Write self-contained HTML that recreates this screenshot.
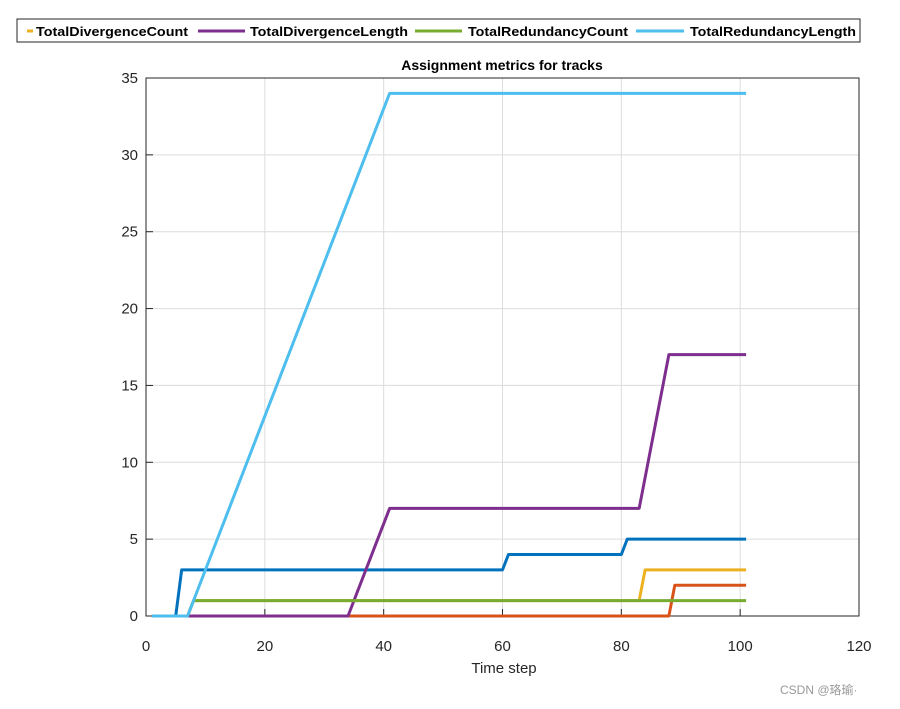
<!DOCTYPE html>
<html><head><meta charset="utf-8"><style>
body{margin:0;background:#fff;width:900px;height:704px;overflow:hidden;font-family:"Liberation Sans",Arial,sans-serif}
</style></head><body>
<svg width="900" height="704">
<g id="legend">
<rect x="17" y="19" width="843" height="23" fill="#fff" stroke="#262626" stroke-width="1"/>
</g>
<text x="502" y="70" text-anchor="middle" font-size="14" font-weight="bold" fill="#000">Assignment metrics for tracks</text>
<g id="grid"></g>
<rect x="146" y="78" width="713" height="538" fill="none" stroke="#262626" stroke-width="1"/>
<g id="axes"></g>
<g id="series"></g>
<text x="504" y="673" text-anchor="middle" font-size="15" fill="#262626">Time step</text>
<text x="780" y="694" font-size="12" fill="#999">CSDN @珞瑜·</text>
</svg>
<script>
const xTicks=[0,20,40,60,80,100,120];
const yTicks=[0,5,10,15,20,25,30,35];
const seriesNames=["TotalAssignmentCount","TotalFalseCount","TotalDivergenceCount","TotalDivergenceLength","TotalRedundancyCount","TotalRedundancyLength"];
const seriesColors=["#0072BD","#D95319","#EDB120","#7E2F8E","#77AC30","#4DBEEE"];
const xsA=[1,5,6,60,61,80,81,101], ysA=[0,0,3,3,4,4,5,5];
const xsB=[1,88,89,101], ysB=[0,0,2,2];
const xsC=[1,7,8,83,84,101], ysC=[0,0,1,1,3,3];
const xsD=[1,34,41,83,88,101], ysD=[0,0,7,7,17,17];
const xsE=[1,7,8,101], ysE=[0,0,1,1];
const xsF=[1,7,41,101], ysF=[0,0,34,34];
const seriesX=[xsA,xsB,xsC,xsD,xsE,xsF];
const seriesY=[ysA,ysB,ysC,ysD,ysE,ysF];
const NS="http://www.w3.org/2000/svg";
const L=146,R=859,T=78,B=616;
const sx=v=>L+(v-0)/(120-0)*(R-L);
const sy=v=>B-(v-0)/(35-0)*(B-T);
const grid=document.getElementById('grid'),axes=document.getElementById('axes'),ser=document.getElementById('series');
function mk(t,a,p){const e=document.createElementNS(NS,t);for(const k in a)e.setAttribute(k,a[k]);p.appendChild(e);return e;}
xTicks.forEach(v=>{
 const g=mk('line',{x1:sx(v),x2:sx(v),y1:T,y2:B,stroke:'#dcdcdc','stroke-width':1},grid);
 
 
 const tk=mk('line',{x1:sx(v),x2:sx(v),y1:B,y2:B-7,stroke:'#262626'},axes);
 
 
 const t=mk('text',{x:sx(v),y:B+35,'text-anchor':'middle','font-size':15,fill:'#262626'},axes);
 t.textContent=v;
 
 
});
yTicks.forEach(v=>{
 const g=mk('line',{x1:L,x2:R,y1:sy(v),y2:sy(v),stroke:'#dcdcdc','stroke-width':1},grid);
 
 
 const tk=mk('line',{x1:L,x2:L+7,y1:sy(v),y2:sy(v),stroke:'#262626'},axes);
 
 
 const t=mk('text',{x:L-8,y:sy(v)+5,'text-anchor':'end','font-size':15,fill:'#262626'},axes);
 t.textContent=v;
 
 
});
seriesX.forEach((xs,i)=>{
 const pts=xs.map((x,j)=>sx(x)+','+sy(seriesY[i][j])).join(' ');
 const p=mk('polyline',{points:pts,fill:'none',stroke:seriesColors[i],'stroke-width':3,'stroke-linejoin':'round'},ser);
 
 
});
const leg=document.getElementById('legend');
const legItems=[[2,36,152,27,33],[3,250,158,198,245],[4,468,160,415,462],[5,690,166,636,684]];
legItems.forEach(([i,x,w,s1,s2])=>{
 const ln=mk('line',{x1:s1,x2:s2,y1:31,y2:31,stroke:seriesColors[i],'stroke-width':3},leg);
 
 
 const t=mk('text',{x:x,y:36,'font-size':13,'font-weight':'bold',fill:'#000',textLength:w,lengthAdjust:'spacingAndGlyphs'},leg);
 t.textContent=seriesNames[i];
 
 
});
</script>
</body></html>
